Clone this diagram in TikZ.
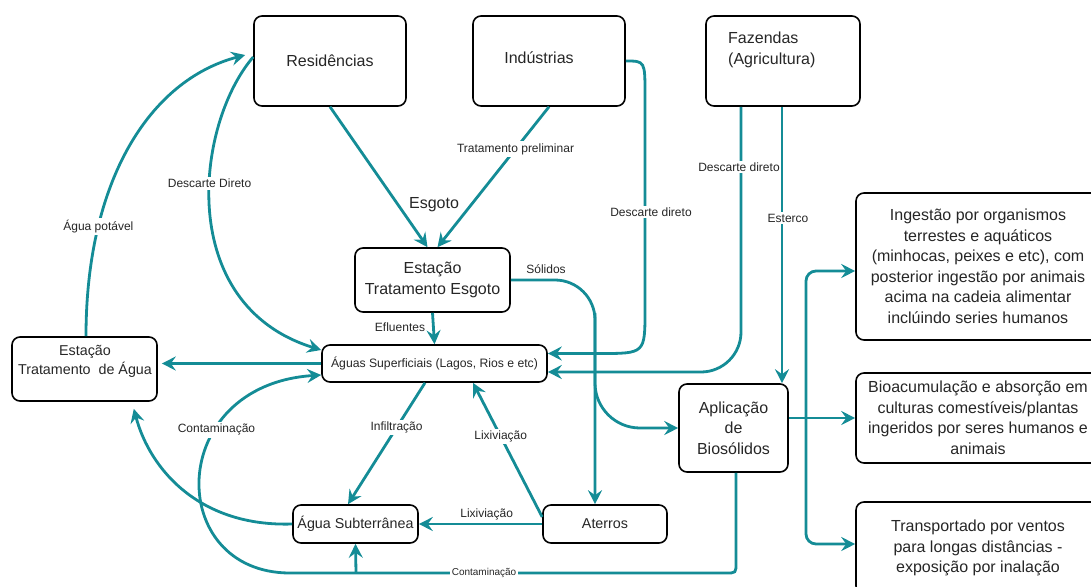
\documentclass[tikz,border=0pt]{standalone}
\usepackage{fontspec}
\setmainfont{Liberation Sans}
\usetikzlibrary{arrows.meta}
\definecolor{agua}{RGB}{20,140,150}

\begin{document}
\begin{tikzpicture}[x=1pt,y=-1pt,
   caixa/.style={draw, line width=1.6pt, rounded corners=8pt, inner sep=0pt,
      align=center, text=black!85},
   texto/.style={inner sep=0pt, align=center, text=black!85},
   grande/.style={font=\fontsize{16}{20.5}\selectfont},
   medio/.style={font=\fontsize{14.3}{19}\selectfont},
   rotulo/.style={fill=white, inner sep=2pt, text=black!85, font=\fontsize{12}{14}\selectfont},
   seta/.style={draw=agua, line width=2.8pt, -{Stealth[length=14pt,width=14pt,inset=5pt]}}]

   \useasboundingbox (0,0) rectangle (1091,586);
   \clip (0,0) rectangle (1091,586);

   \node[caixa, grande, minimum width=152pt, minimum height=90pt] (res) at (330,61) {Resid\^encias};
   \node[caixa, minimum width=152pt, minimum height=90pt] (ind) at (549,61) {};
   \node[texto, grande] (indt) at (539,58) {Ind\'ustrias};
   \node[caixa, minimum width=154pt, minimum height=90pt] (faz) at (783,61) {};
   \node[texto, grande, align=left, anchor=west] (fazt) at (728,50) {Fazendas\\(Agricultura)};
   \node[caixa, grande, minimum width=155pt, minimum height=64pt] (ete) at (432.5,280) {Esta\c c\~ao\\Tratamento Esgoto};
   \node[caixa, minimum width=225pt, minimum height=37pt,
      font=\fontsize{12.2}{14}\selectfont] (sup) at (434.5,363.5) {\'Aguas Superficiais (Lagos, Rios e etc)};
   \node[caixa, minimum width=145pt, minimum height=64pt] (eta) at (84.5,369) {};
   \node[texto, medio] (etat) at (85,361.5) {Esta\c c\~ao\\Tratamento\ \ de \'Agua};
   \node[caixa, medio, minimum width=125pt, minimum height=38pt] (sub) at (355.5,524) {\'Agua Subterr\^anea};
   \node[caixa, medio, minimum width=124pt, minimum height=38pt] (ate) at (605,524) {Aterros};
   \node[caixa, grande, minimum width=109pt, minimum height=88pt] (apl) at (733.5,428) {Aplica\c c\~ao\\de\\Bios\'olidos};
   \node[caixa, grande, minimum width=244pt, minimum height=147pt] (ing) at (978,266.5)
      {Ingest\~ao por organismos\\terrestes e aqu\'aticos\\(minhocas, peixes e etc), com\\posterior ingest\~ao por animais\\acima na cadeia alimentar\\incl\'uindo series humanos};
   \node[caixa, grande, minimum width=244pt, minimum height=90pt] (bio) at (978,418)
      {Bioacumula\c c\~ao e absor\c c\~ao em\\culturas comest\'iveis/plantas\\ingeridos por seres humanos e\\animais};
   \node[caixa, grande, minimum width=244pt, minimum height=92pt] (tra) at (978,548)
      {Transportado por ventos\\para longas dist\^ancias -\\exposi\c c\~ao por inala\c c\~ao};

   \coordinate (base) at (356,573);
   \coordinate (tronco) at (806,418);

   \draw[seta] (res.south) -- ([xshift=-5pt]ete.north);
   \draw[seta] (ind.south) -- node[rotulo, pos=.3] (trat) {Tratamento preliminar} ([xshift=5pt]ete.north);
   \node[texto, grande] (esg) at (434,205) {Esgoto};
   \draw[seta] (ete.south) -- (sup.north);
   \node[texto, font=\fontsize{12}{14}\selectfont] (efl) at (400,327) {Efluentes};
   \draw[seta] (sup.west) -- ([xshift=4pt]sup.west -| eta.east);
   \draw[seta] ([xshift=1.5pt]eta.north) .. controls (86,180) and (150,80) ..
      node[rotulo, pos=.26] (pot) {\'Agua pot\'avel} ([xshift=-8pt,yshift=6pt]res.west);
   \draw[seta] ([yshift=4pt]res.west) .. controls (195,125) and (175,305) ..
      node[rotulo, pos=.42] (dd1) {Descarte Direto} ([yshift=13.5pt]sup.west);
   \draw[seta] (ind.east) .. controls (645,61) .. (645,95) -- (645,310)
      .. controls (645,353.5) .. (600,353.5) -- ([yshift=10pt]sup.east);
   \node[rotulo] (dd2) at (651,212) {Descarte direto};
   \draw[seta, rounded corners=40pt] ([xshift=-42pt]faz.south) |- ([yshift=-8.5pt]sup.east);
   \node[rotulo] (dd3) at (739,167) {Descarte direto};
   \draw[seta] ([xshift=-1pt]faz.south) -- ([xshift=-1pt]faz.south |- apl.north);
   \node[rotulo] (est) at (788,218) {Esterco};
   \draw[seta, rounded corners=40pt] (ete.east) -| ([xshift=-10pt]ate.north);
   \draw[seta, rounded corners=45pt] ([xshift=-10pt]ate.north |- ete.south) |- (apl.west);
   \node[texto, font=\fontsize{12}{14}\selectfont] (sol) at (546,269) {S\'olidos};
   \draw[seta] ([xshift=-9.5pt]sup.south) -- node[rotulo, pos=.37] (inf) {Infiltra\c c\~ao} ([xshift=-7.5pt]sub.north);
   \draw[seta] ([yshift=7pt]ate.west) -- node[rotulo, pos=.6] (lix1) {Lixivia\c c\~ao} ([xshift=38.5pt]sup.south);
   \draw[seta] (ate.west) -- node[rotulo, above=1pt, pos=.45] (lix2) {Lixivia\c c\~ao} (sub.east);
   \draw[seta] (sub.west) .. controls (200,527) and (150,470) .. ([xshift=-24pt,yshift=-7pt]eta.south east);
   \draw[seta] ([xshift=2.5pt]apl.south) -- (736,563) .. controls (736,573) .. (726,573)
      -- node[rotulo, pos=.555, font=\fontsize{10}{12}\selectfont] (con2) {Contamina\c c\~ao} (290,573)
      .. controls (165,573) and (165,385) .. node[rotulo, pos=.67] (con1) {Contamina\c c\~ao} ([yshift=-11.5pt]sup.west);
   \draw[seta] (base) -- (sub.south);
   \draw[seta] (apl.east |- bio.west) -- (bio.west);
   \foreach \b/\s in {ing/-4.5, tra/4}
      \draw[seta, rounded corners=10pt] (tronco) |- ([yshift=\s pt]\b.west);

\end{tikzpicture}
\end{document}
